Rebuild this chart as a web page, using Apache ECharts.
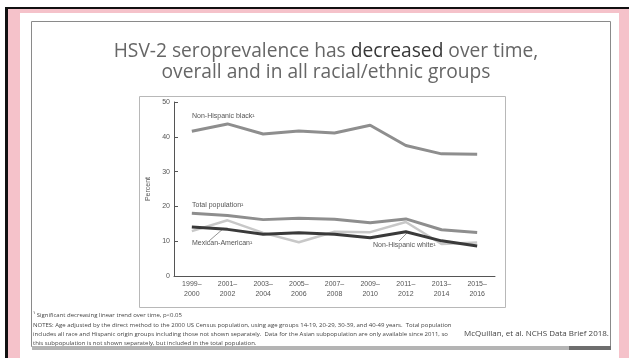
<!DOCTYPE html>
<html>
<head>
<meta charset="utf-8">
<script src="https://cdn.jsdelivr.net/npm/echarts@6/dist/echarts.min.js"></script>
<style>
  html, body { margin: 0; padding: 0; background: #fff; }
  #main { width: 629px; height: 358px; }
</style>
</head>
<body>
<div id="main"></div>
<script>
// survey periods
var periods = ['1999–\n2000', '2001–\n2002', '2003–\n2004', '2005–\n2006', '2007–\n2008',
  '2009–\n2010', '2011–\n2012', '2013–\n2014', '2015–\n2016'];
// percent seropositive
var nhBlack = [41.6, 43.7, 40.8, 41.7, 41.1, 43.3, 37.5, 35.1, 35.0];
var totalPop = [18.0, 17.4, 16.2, 16.6, 16.3, 15.3, 16.4, 13.3, 12.5];
var nhWhite = [14.1, 13.4, 12.0, 12.4, 12.0, 11.0, 12.7, 10.1, 8.6];
var mexAm = [12.9, 16.0, 12.4, 9.7, 12.7, 12.6, 15.5, 9.2, 9.6];

var chart = echarts.init(document.getElementById('main'));

var labelFont = 'Liberation Sans, Arial, sans-serif';
var noteFont = 'Open Sans, Noto Sans, sans-serif';

var option = {
  backgroundColor: '#fff',
  animation: false,
  title: {
    left: 321,
    top: 36,
    textAlign: 'center',
    text: '{a|HSV-2 seroprevalence has }{b|decreased}{a| over time,}\n{a|overall and in all racial/ethnic groups}',
    textStyle: {
      fontWeight: 'normal',
      rich: {
        a: { fontFamily: noteFont, fontSize: 19.2, fontWeight: 'normal', color: '#666', lineHeight: 21 },
        b: { fontFamily: noteFont, fontSize: 19.2, fontWeight: 'normal', color: '#383838', lineHeight: 21 }
      }
    }
  },
  grid: { left: 174, top: 102, right: 134, bottom: 82 },
  xAxis: {
    type: 'category',
    data: periods,
    boundaryGap: true,
    axisLine: { lineStyle: { color: '#555', width: 1 } },
    axisTick: { inside: true, length: 4, alignWithLabel: true, lineStyle: { color: '#555' } },
    axisLabel: { color: '#555', fontSize: 7, fontFamily: labelFont, lineHeight: 10, margin: 3 }
  },
  yAxis: {
    type: 'value',
    min: 0, max: 50, interval: 10,
    name: 'Percent',
    nameLocation: 'middle',
    nameGap: 19,
    nameTextStyle: { color: '#555', fontSize: 7, fontFamily: labelFont },
    splitLine: { show: false },
    axisLine: { show: true, lineStyle: { color: '#555', width: 1 } },
    axisTick: { show: true, inside: true, length: 4, lineStyle: { color: '#555' } },
    axisLabel: { color: '#555', fontSize: 7, fontFamily: labelFont, margin: 4 }
  },
  series: [
    { name: 'Mexican-American', type: 'line', data: mexAm, symbol: 'none', z: 2,
      lineStyle: { color: '#c8c8c8', width: 2.5 } },
    { name: 'Non-Hispanic white', type: 'line', data: nhWhite, symbol: 'none', z: 3,
      lineStyle: { color: '#3a3a3a', width: 3 } },
    { name: 'Total population', type: 'line', data: totalPop, symbol: 'none', z: 3,
      lineStyle: { color: '#8e8e8e', width: 3 } },
    { name: 'Non-Hispanic black', type: 'line', data: nhBlack, symbol: 'none', z: 3,
      lineStyle: { color: '#8e8e8e', width: 3 } }
  ],
  graphic: [
    // slide frame
    { type: 'rect', z: -10, shape: { x: 5, y: 7, width: 624, height: 351 }, style: { fill: '#111' } },
    { type: 'rect', z: -9, shape: { x: 8, y: 9, width: 621, height: 349 }, style: { fill: '#f5c2ca' } },
    { type: 'rect', z: -8, shape: { x: 20, y: 13, width: 599, height: 345 }, style: { fill: '#fff' } },
    { type: 'rect', z: -7, shape: { x: 31.5, y: 21.5, width: 579, height: 325 },
      style: { fill: '#fff', stroke: '#8a8a8a', lineWidth: 1 } },
    { type: 'rect', z: -6, shape: { x: 32, y: 346, width: 537, height: 4 }, style: { fill: '#b4b4b4' } },
    { type: 'rect', z: -6, shape: { x: 569, y: 346, width: 42, height: 4 }, style: { fill: '#6e6e6e' } },
    // figure box
    { type: 'rect', z: -5, shape: { x: 139.5, y: 96.5, width: 366, height: 211 },
      style: { fill: '#fff', stroke: '#b8b8b8', lineWidth: 1 } },
    // series labels
    { type: 'text', left: 192, top: 113, style: { text: 'Non-Hispanic black¹', font: '7px ' + labelFont, fill: '#555' } },
    { type: 'text', left: 192, top: 202, style: { text: 'Total population¹', font: '7px ' + labelFont, fill: '#555' } },
    { type: 'text', left: 192, top: 240, style: { text: 'Mexican-American¹', font: '7px ' + labelFont, fill: '#555' } },
    { type: 'text', left: 373, top: 242, style: { text: 'Non-Hispanic white¹', font: '7px ' + labelFont, fill: '#555' } },
    { type: 'line', shape: { x1: 209, y1: 241, x2: 224, y2: 228 }, style: { stroke: '#666', lineWidth: 0.7 } },
    { type: 'line', shape: { x1: 399, y1: 241, x2: 407, y2: 233 }, style: { stroke: '#666', lineWidth: 0.7 } },
    // notes
    { type: 'text', left: 33, top: 312, style: { text: '¹ Significant decreasing linear trend over time, p<0.05', font: '6px ' + noteFont, fill: '#444' } },
    { type: 'text', left: 33, top: 321, style: {
      text: 'NOTES: Age adjusted by the direct method to the 2000 US Census population, using age groups 14-19, 20-29, 30-39, and 40-49 years.  Total population\nincludes all race and Hispanic origin groups including those not shown separately.  Data for the Asian subpopulation are only available since 2011, so\nthis subpopulation is not shown separately, but included in the total population.',
      font: '6px ' + noteFont, fill: '#444', lineHeight: 9 } },
    { type: 'text', left: 464, top: 330, style: { text: 'McQuillan, et al. NCHS Data Brief 2018.', font: '8px ' + noteFont, fill: '#444' } }
  ]
};

chart.setOption(option);
</script>
</body>
</html>
